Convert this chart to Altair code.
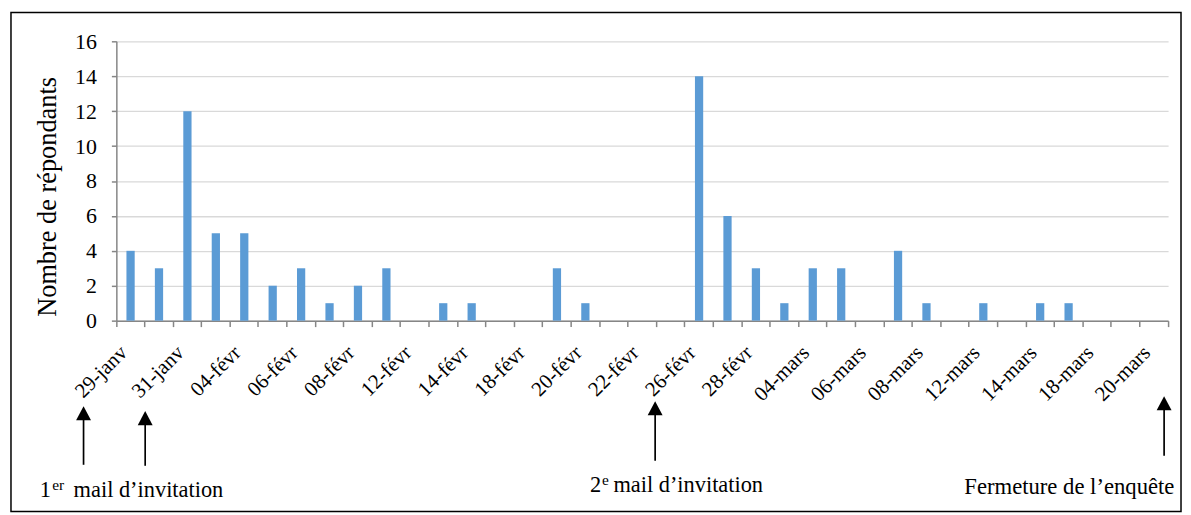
import altair as alt
import pandas as pd

# ---- data ----
dates = ["29-janv", "30-janv", "31-janv", "03-févr", "04-févr", "05-févr", "06-févr", "07-févr",
         "08-févr", "11-févr", "12-févr", "13-févr", "14-févr", "15-févr", "18-févr", "19-févr",
         "20-févr", "21-févr", "22-févr", "25-févr", "26-févr", "27-févr", "28-févr", "01-mars",
         "04-mars", "05-mars", "06-mars", "07-mars", "08-mars", "11-mars", "12-mars", "13-mars",
         "14-mars", "15-mars", "18-mars", "19-mars", "20-mars"]
counts = [4, 3, 12, 5, 5, 2, 3, 1, 2, 3, 0, 1, 1, 0, 0, 3, 1, 0, 0, 0,
          14, 6, 3, 1, 3, 3, 0, 4, 1, 0, 1, 0, 1, 1, 0, 0, 0]
shown_labels = dates[::2]
y_ticks = [0, 2, 4, 6, 8, 10, 12, 14, 16]

FONT = "'Liberation Serif', 'DejaVu Serif', serif"
W, H = 1058, 281
step = W / len(dates)

df = pd.DataFrame({"date": dates, "n": counts})
label_expr = ("indexof([" + ",".join("'%s'" % s for s in shown_labels) +
              "], datum.value) >= 0 ? datum.label : ''")

bars = alt.Chart(df).mark_bar(color="#5b9bd5", width={"band": 0.29}).encode(
    x=alt.X("date:N", sort=dates,
            scale=alt.Scale(paddingInner=0, paddingOuter=0),
            axis=alt.Axis(title=None, labelAngle=-45, labelAlign="right", labelBaseline="top",
                          labelFont=FONT, labelFontSize=21, labelColor="black",
                          labelPadding=15, labelOffset=-step / 2, bandPosition=1, tickExtra=True,
                          tickSize=6, tickColor="#868686", tickWidth=1.5,
                          domainColor="#868686", domainWidth=1.5,
                          labelExpr=label_expr, labelOverlap=False, grid=False)),
    y=alt.Y("n:Q", scale=alt.Scale(domain=[0, 16], nice=False),
            axis=alt.Axis(values=y_ticks, title="Nombre de répondants",
                          titleFont=FONT, titleFontSize=26.5, titleFontWeight="normal",
                          titleColor="black", titleX=-61, titleY=156, titleAlign="center",
                          titleBaseline="alphabetic",
                          labelFont=FONT, labelFontSize=22, labelColor="black", labelPadding=15,
                          tickSize=5, tickColor="#868686", tickWidth=1.5,
                          domainColor="#868686", domainWidth=1.5,
                          gridColor="#d9d9d9", gridWidth=1.3)),
)

one = alt.Data(values=[{"a": 1}])

frame = alt.Chart(one).mark_rect(fill=None, stroke="black", strokeWidth=1.5).encode(
    x=alt.value(-106), x2=alt.value(1071), y=alt.value(-29), y2=alt.value(473))


def arrow(x, tip, bottom):
    shaft = alt.Chart(one).mark_rule(color="black", strokeWidth=1.7).encode(
        x=alt.value(x), y=alt.value(tip + 10), y2=alt.value(bottom))
    head = alt.Chart(one).mark_point(shape="M0,0L-1,1.9L1,1.9Z", filled=True, color="black",
                                     opacity=1, size=225, strokeWidth=0).encode(
        x=alt.value(x), y=alt.value(tip))
    return [shaft, head]


def txt(s, x, y, size=22.5):
    return alt.Chart(one).mark_text(text=s, align="left", baseline="alphabetic", font=FONT,
                                    fontSize=size, color="black").encode(
        x=alt.value(x), y=alt.value(y))


layers = [frame, bars]
layers += arrow(-33, 367, 426)
layers += arrow(29, 372, 427)
layers += arrow(542, 362, 422)
layers += arrow(1054, 357, 417)
layers += [
    txt("1", -77, 458), txt("er", -64.5, 451, 15.5), txt("mail d’invitation", -43, 458),
    txt("2", 476.5, 453), txt("e", 488.5, 446, 15.5), txt("mail d’invitation", 500, 453),
    txt("Fermeture de l’enquête", 853, 455, 22.8),
]

chart = alt.layer(*layers).properties(
    width=W, height=H, autosize="none",
    padding={"left": 109, "top": 32, "right": 15, "bottom": 194},
    background="white",
).configure_view(stroke=None)

chart.save("out.html", embed_options={"renderer": "svg", "actions": False})
